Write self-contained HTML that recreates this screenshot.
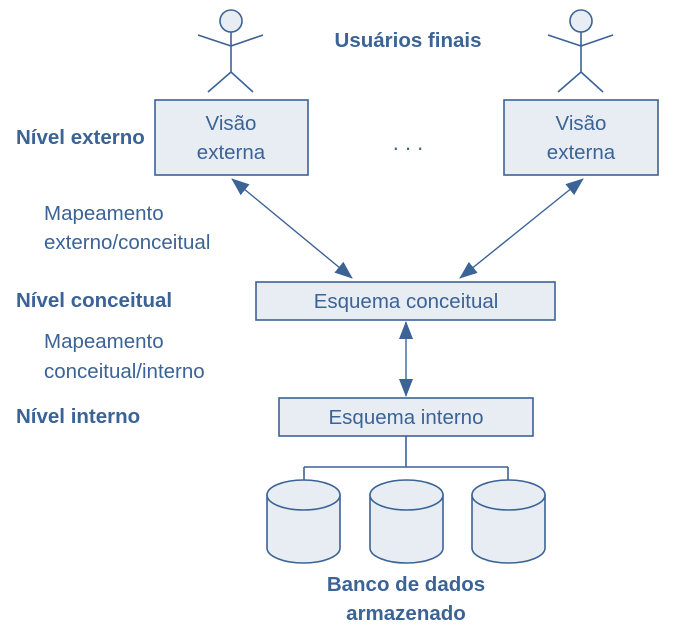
<!DOCTYPE html>
<html><head><style>
html,body{margin:0;padding:0;background:#fff;}
svg{display:block;}
text{font-family:"Liberation Sans",Arial,sans-serif;fill:#3b6396;}
.b{font-weight:bold;}
</style></head><body>
<svg width="676" height="638" viewBox="0 0 676 638">
<defs>
<marker id="ah" markerWidth="18" markerHeight="14" refX="17" refY="7" orient="auto-start-reverse" markerUnits="userSpaceOnUse" viewBox="0 0 18 14">
<path d="M0,0 L18,7 L0,14 z" fill="#3b6396"/>
</marker>
</defs>
<g stroke="#3b6396" stroke-width="1.6" fill="#e8edf3">
<circle cx="231" cy="21" r="11"/>
<path d="M198,35 L231,46 L263,35 M231,32 L231,72 L208,92 M231,72 L253,92" fill="none"/>
<circle cx="581" cy="21" r="11"/>
<path d="M548,35 L581,46 L613,35 M581,32 L581,72 L558,92 M581,72 L603,92" fill="none"/>
<rect x="155" y="100" width="153" height="75"/>
<rect x="504" y="100" width="154" height="75"/>
<rect x="256" y="282" width="299" height="38"/>
<rect x="279" y="398" width="254" height="38"/>
<path d="M406,436 L406,467 M304,467 L508,467 M304,467 L304,482 M508,467 L508,482" fill="none"/>
<path d="M267,495 L267,548 A36.5,15 0 0 0 340,548 L340,495"/>
<ellipse cx="303.5" cy="495" rx="36.5" ry="15"/>
<path d="M370,495 L370,548 A36.5,15 0 0 0 443,548 L443,495"/>
<ellipse cx="406.5" cy="495" rx="36.5" ry="15"/>
<path d="M472,495 L472,548 A36.5,15 0 0 0 545,548 L545,495"/>
<ellipse cx="508.5" cy="495" rx="36.5" ry="15"/>
<line x1="232" y1="179" x2="352" y2="278" marker-start="url(#ah)" marker-end="url(#ah)" stroke-width="1.4" fill="none"/>
<line x1="583" y1="179" x2="460" y2="278" marker-start="url(#ah)" marker-end="url(#ah)" stroke-width="1.4" fill="none"/>
<line x1="406" y1="322" x2="406" y2="396" marker-start="url(#ah)" marker-end="url(#ah)" stroke-width="1.4" fill="none"/>
</g>
<text x="408" y="47" font-size="20.5" class="b" text-anchor="middle">Usuários finais</text>
<text x="231" y="130" font-size="20.5" text-anchor="middle">Visão</text>
<text x="231" y="159" font-size="20.5" text-anchor="middle">externa</text>
<text x="581" y="130" font-size="20.5" text-anchor="middle">Visão</text>
<text x="581" y="159" font-size="20.5" text-anchor="middle">externa</text>
<text x="408" y="150" font-size="22" text-anchor="middle">. . .</text>
<text x="16" y="144" font-size="20.5" class="b">Nível externo</text>
<text x="44" y="220" font-size="20.5">Mapeamento</text>
<text x="44" y="249" font-size="20.5">externo/conceitual</text>
<text x="16" y="307" font-size="20.5" class="b">Nível conceitual</text>
<text x="44" y="348" font-size="20.5">Mapeamento</text>
<text x="44" y="378" font-size="20.5">conceitual/interno</text>
<text x="16" y="423" font-size="20.5" class="b">Nível interno</text>
<text x="406" y="308" font-size="20.5" text-anchor="middle">Esquema conceitual</text>
<text x="406" y="424" font-size="20.5" text-anchor="middle">Esquema interno</text>
<text x="406" y="591" font-size="20.5" class="b" text-anchor="middle">Banco de dados</text>
<text x="406" y="620" font-size="20.5" class="b" text-anchor="middle">armazenado</text>
</svg>
</body></html>
